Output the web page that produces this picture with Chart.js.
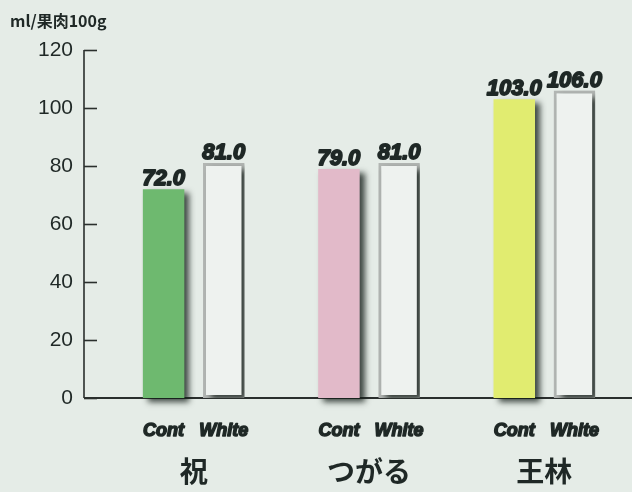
<!DOCTYPE html>
<html>
<head>
<meta charset="utf-8">
<script src="https://cdn.jsdelivr.net/npm/chart.js@4"></script>
<style>
  html, body { margin: 0; padding: 0; background: #e5ece7; }
  #wrap { width: 632px; height: 492px; position: relative; }
</style>
</head>
<body>
<div id="wrap"><canvas id="c" width="632" height="492"></canvas></div>
<script>
// Apple cultivars and measured values (ml per 100 g of flesh)
const cultivars = ['祝', 'つがる', '王林'];
const seriesNames = ['Cont', 'White'];
const contValues = [72.0, 79.0, 103.0];
const whiteValues = [81.0, 81.0, 106.0];
const contColors = ['#6eb96f', '#e2bac9', '#e1ec70'];
const yTickValues = [0, 20, 40, 60, 80, 100, 120];
const unitLabel = 'ml/果肉100g';

const INK = '#1f2826';
const AXIS_SHIFT = 22; // axis line sits a little left of the plotting area

// Drop shadow under every bar
const barShadow = {
  id: 'barShadow',
  beforeDatasetsDraw(chart) {
    const ctx = chart.ctx;
    ctx.save();
    ctx.shadowColor = 'rgba(20,30,25,0.8)';
    ctx.shadowBlur = 6;
    ctx.shadowOffsetX = 5;
    ctx.shadowOffsetY = 4;
  },
  afterDatasetsDraw(chart) {
    chart.ctx.restore();
  }
};

// Axis lines, tick marks, bar captions and the unit title
const decorations = {
  id: 'decorations',
  beforeDatasetsDraw(chart) {
    const ctx = chart.ctx;
    const y = chart.scales.y;
    const area = chart.chartArea;
    const ax = area.left - AXIS_SHIFT;
    ctx.save();
    ctx.strokeStyle = '#2a2f2d';
    ctx.lineWidth = 1.6;
    ctx.beginPath();
    ctx.moveTo(ax, y.getPixelForValue(yTickValues[yTickValues.length - 1]));
    ctx.lineTo(ax, y.getPixelForValue(0));
    ctx.stroke();
    yTickValues.forEach(v => {
      const py = Math.round(y.getPixelForValue(v)) + 0.5;
      ctx.beginPath();
      ctx.moveTo(ax, py);
      ctx.lineTo(ax + 13, py);
      ctx.stroke();
    });
    ctx.lineWidth = 2;
    ctx.beginPath();
    ctx.moveTo(ax, y.getPixelForValue(0));
    ctx.lineTo(chart.width, y.getPixelForValue(0));
    ctx.stroke();
    ctx.restore();
  },
  afterDraw(chart) {
    const ctx = chart.ctx;
    ctx.save();
    ctx.fillStyle = INK;
    ctx.strokeStyle = INK;
    ctx.lineJoin = 'round';
    ctx.textAlign = 'center';
    const baseY = chart.scales.y.getPixelForValue(0);
    chart.data.datasets.forEach((ds, di) => {
      const meta = chart.getDatasetMeta(di);
      meta.data.forEach((bar, i) => {
        // value above the bar
        ctx.font = 'italic bold 22px "Liberation Sans", Arial, sans-serif';
        ctx.lineWidth = 1.8;
        ctx.textBaseline = 'alphabetic';
        const txt = ds.data[i].toFixed(1);
        ctx.fillText(txt, bar.x, bar.y - 4);
        ctx.strokeText(txt, bar.x, bar.y - 4);
        // series name under the bar
        ctx.font = 'italic bold 18px "Liberation Sans", Arial, sans-serif';
        ctx.lineWidth = 1.5;
        ctx.fillText(ds.label, bar.x, baseY + 38);
        ctx.strokeText(ds.label, bar.x, baseY + 38);
      });
    });
    ctx.textAlign = 'left';
    ctx.textBaseline = 'middle';
    ctx.font = 'bold 16px "Noto Sans CJK JP", sans-serif';
    ctx.fillText(unitLabel, 10, 21);
    ctx.restore();
  }
};

new Chart(document.getElementById('c'), {
  type: 'bar',
  data: {
    labels: cultivars,
    datasets: [
      {
        label: seriesNames[0],
        data: contValues,
        backgroundColor: contColors,
        borderWidth: 0,
        clip: false
      },
      {
        label: seriesNames[1],
        data: whiteValues,
        backgroundColor: '#eef2ef',
        borderColor: '#b2b6b3',
        borderWidth: 3,
        borderSkipped: false,
        clip: false
      }
    ]
  },
  options: {
    responsive: false,
    animation: false,
    devicePixelRatio: 1,
    layout: { padding: { top: 50, right: 0, bottom: 0, left: 0 } },
    datasets: { bar: { barPercentage: 0.69, categoryPercentage: 0.686 } },
    plugins: {
      legend: { display: false },
      tooltip: { enabled: false }
    },
    scales: {
      x: {
        grid: { display: false, drawTicks: false },
        border: { display: false },
        ticks: {
          color: INK,
          padding: 57,
          font: { family: '"Noto Sans CJK JP", sans-serif', size: 28, weight: 'bold' }
        },
        afterFit(scale) { scale.height = 94; }
      },
      y: {
        min: 0,
        max: 120,
        grid: { display: false, drawTicks: false },
        border: { display: false },
        ticks: {
          stepSize: 20,
          color: INK,
          padding: 33,
          font: { family: '"Liberation Sans", Arial, sans-serif', size: 21 }
        },
        afterFit(scale) { scale.width = 106; }
      }
    }
  },
  plugins: [decorations, barShadow]
});
</script>
</body>
</html>
